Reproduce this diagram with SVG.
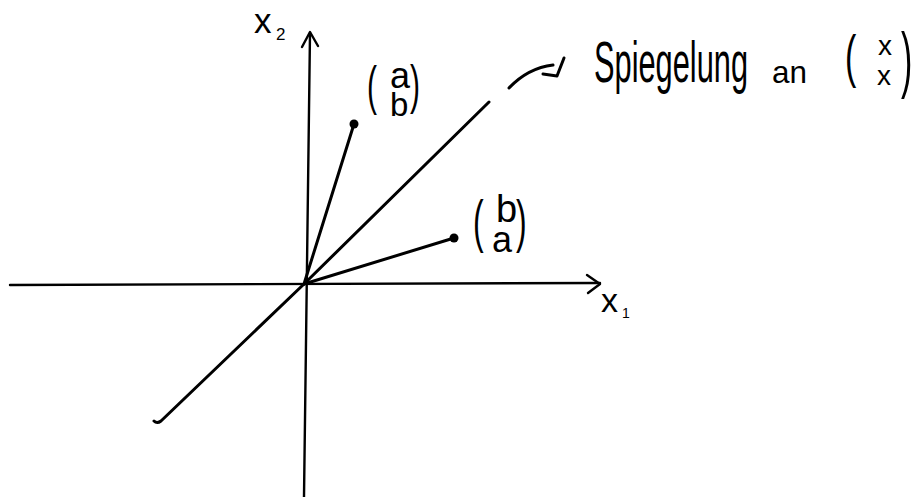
<svg xmlns="http://www.w3.org/2000/svg" width="921" height="497" viewBox="0 0 921 497">
<style>
.ln{fill:none;stroke:#000;stroke-width:3;stroke-linecap:round;stroke-linejoin:round}
.ax{fill:none;stroke:#000;stroke-width:2.4;stroke-linecap:round;stroke-linejoin:round}
.t{font-family:"Liberation Sans",Arial,sans-serif;fill:#000}
.dot{fill:#000}
</style>
<rect width="921" height="497" fill="#fff"/>
<g id="connectors">
<path class="ax" d="M10,285 L600,283"/>
<path class="ax" d="M587,275 L600,284 L588,293"/>
<path class="ax" d="M304,497 L310,33"/>
<path class="ax" d="M302,47 L310,32 L318,46"/>
<path class="ln" d="M489,102 L304,284 L161,421 Q157,424 154,421"/>
<path class="ln" d="M304,284 L354,124"/>
<path class="ln" d="M304,284 L454,238"/>
<path class="ln" d="M509,88 Q528,68 553,65"/>
<path class="ln" d="M543,74 L557,76 L564,58"/>
</g>
<g id="axis-x1">
<text class="t" x="601" y="312" font-size="34">x</text>
<text class="t" x="622" y="318" font-size="14">1</text>
</g>
<g id="axis-x2">
<text class="t" x="254" y="33" font-size="35">x</text>
<text class="t" x="276" y="40" font-size="17">2</text>
</g>
<g id="point-ab">
<circle class="dot" cx="354" cy="124" r="4.5"/>
<text class="t" font-size="30" transform="translate(367,104) scale(1,1.8)">(</text>
<text class="t" x="390" y="88" font-size="36">a</text>
<text class="t" x="390" y="116" font-size="33">b</text>
<text class="t" font-size="30" transform="translate(410,103) scale(1,1.8)">)</text>
</g>
<g id="point-ba">
<circle class="dot" cx="454" cy="238" r="4.5"/>
<text class="t" font-size="32" transform="translate(473,241) scale(1,1.8)">(</text>
<text class="t" x="496" y="222" font-size="38">b</text>
<text class="t" x="492" y="252" font-size="36">a</text>
<text class="t" font-size="32" transform="translate(516,241) scale(1,1.8)">)</text>
</g>
<g id="label-reflection">
<text class="t" x="594" y="82" font-size="58" textLength="154" lengthAdjust="spacingAndGlyphs">Spiegelung</text>
<text class="t" x="772" y="83" font-size="32" textLength="35" lengthAdjust="spacingAndGlyphs">an</text>
<text class="t" font-size="34" transform="translate(845,76) scale(1,1.7)">(</text>
<text class="t" x="878" y="55" font-size="28">x</text>
<text class="t" x="877" y="85" font-size="28">x</text>
<text class="t" font-size="34" transform="translate(901,84) scale(1,2.1)">)</text>
</g>
</svg>
